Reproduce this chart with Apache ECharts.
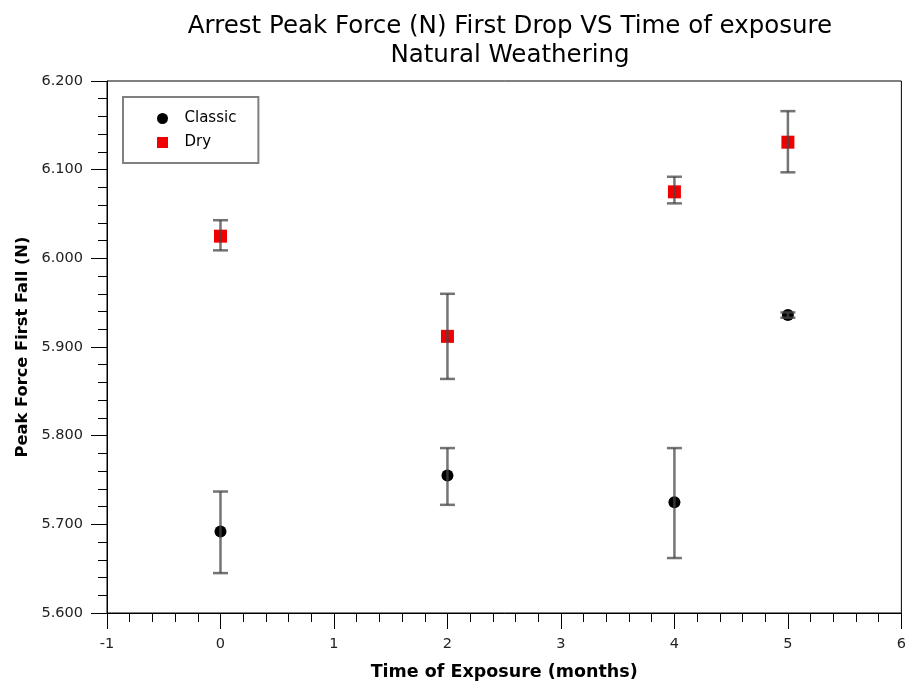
<!DOCTYPE html>
<html>
<head>
<meta charset="utf-8">
<script src="https://cdn.jsdelivr.net/npm/echarts@6/dist/echarts.min.js"></script>
<style>html,body{margin:0;padding:0;background:#fff}#c{width:909px;height:686px}</style>
</head>
<body>
<div id="c"></div>
<script>
const titleLines = ['Arrest Peak Force (N) First Drop VS Time of exposure', 'Natural Weathering'];
const xName = 'Time of Exposure (months)';
const yName = 'Peak Force First Fall (N)';
const seriesNames = ['Classic', 'Dry'];
const months = [0, 2, 4, 5];
const classicMean = [5.692, 5.755, 5.725, 5.936];
const classicLow = [5.645, 5.722, 5.662, 5.933];
const classicHigh = [5.737, 5.786, 5.786, 5.939];
const dryMean = [6.025, 5.912, 6.075, 6.131];
const dryLow = [6.009, 5.864, 6.062, 6.097];
const dryHigh = [6.043, 5.960, 6.092, 6.166];

const FONT = 'DejaVu Sans';
const chart = echarts.init(document.getElementById('c'), null, {renderer: 'canvas'});

function errSeries(name, lo, hi) {
  return {
    type: 'custom', name: name, z: 3,
    data: months.map((m, i) => [m, lo[i], hi[i]]),
    renderItem: function (params, api) {
      const x = api.value(0);
      const p1 = api.coord([x, api.value(1)]);
      const p2 = api.coord([x, api.value(2)]);
      const hw = 7.5;
      const st = {stroke: 'rgba(70,70,70,0.75)', lineWidth: 2.5};
      return {
        type: 'group',
        children: [
          {type: 'line', shape: {x1: p1[0], y1: p1[1], x2: p2[0], y2: p2[1]}, style: st},
          {type: 'line', shape: {x1: p1[0] - hw, y1: p1[1], x2: p1[0] + hw, y2: p1[1]}, style: st},
          {type: 'line', shape: {x1: p2[0] - hw, y1: p2[1], x2: p2[0] + hw, y2: p2[1]}, style: st}
        ]
      };
    },
    silent: true
  };
}

chart.setOption({
  animation: false,
  backgroundColor: '#fff',
  title: {
    text: titleLines.join('\n'),
    left: 505, textAlign: 'center', top: 7,
    textStyle: {fontFamily: FONT, fontSize: 24.5, fontWeight: 'normal', color: '#000', lineHeight: 29}
  },
  legend: {
    data: [
      {name: seriesNames[0], icon: 'circle'},
      {name: seriesNames[1], icon: 'path://M0,0L10,0L10,10L0,10Z'}
    ],
    orient: 'vertical', left: 123, top: 97,
    itemWidth: 34, itemHeight: 11, itemGap: 9,
    borderColor: '#808080', borderWidth: 2, borderRadius: 0,
    padding: [14, 22, 13, 34],
    textStyle: {fontFamily: FONT, fontSize: 15, color: '#000'},
    selectedMode: false
  },
  grid: {left: 107, right: 6, top: 81, bottom: 67, show: true, borderColor: '#000', borderWidth: 1, containLabel: false},
  xAxis: {
    type: 'value', min: -1, max: 6, interval: 1,
    name: xName, nameLocation: 'middle', nameGap: 50,
    nameTextStyle: {fontFamily: FONT, fontSize: 17.5, fontWeight: 'bold', color: '#000'},
    axisLine: {show: true, onZero: false, lineStyle: {color: '#000', width: 1}},
    axisTick: {show: true, inside: false, length: 16, lineStyle: {color: '#000'}},
    minorTick: {show: true, splitNumber: 5, length: 9, lineStyle: {color: '#000'}},
    splitLine: {show: false},
    axisLabel: {fontFamily: FONT, fontSize: 14.5, color: '#222', margin: 24}
  },
  yAxis: {
    type: 'value', min: 5.6, max: 6.2, interval: 0.1,
    name: yName, nameLocation: 'middle', nameGap: 76, nameRotate: 90,
    nameTextStyle: {fontFamily: FONT, fontSize: 16.3, fontWeight: 'bold', color: '#000'},
    axisLine: {show: true, onZero: false, lineStyle: {color: '#000', width: 1}},
    axisTick: {show: true, inside: false, length: 16, lineStyle: {color: '#000'}},
    minorTick: {show: true, splitNumber: 5, length: 9, lineStyle: {color: '#000'}},
    splitLine: {show: false},
    axisLabel: {fontFamily: FONT, fontSize: 14.5, color: '#222', margin: 24, formatter: v => v.toFixed(3)}
  },
  series: [
    {
      type: 'scatter', name: seriesNames[0], z: 2,
      data: months.map((m, i) => [m, classicMean[i]]),
      symbol: 'circle', symbolSize: 12,
      itemStyle: {color: '#000', opacity: 1}
    },
    {
      type: 'scatter', name: seriesNames[1], z: 2,
      data: months.map((m, i) => [m, dryMean[i]]),
      symbol: 'rect', symbolSize: 13,
      itemStyle: {color: '#f00000', opacity: 1}
    },
    errSeries(seriesNames[0], classicLow, classicHigh),
    errSeries(seriesNames[1], dryLow, dryHigh)
  ]
});
</script>
</body>
</html>
